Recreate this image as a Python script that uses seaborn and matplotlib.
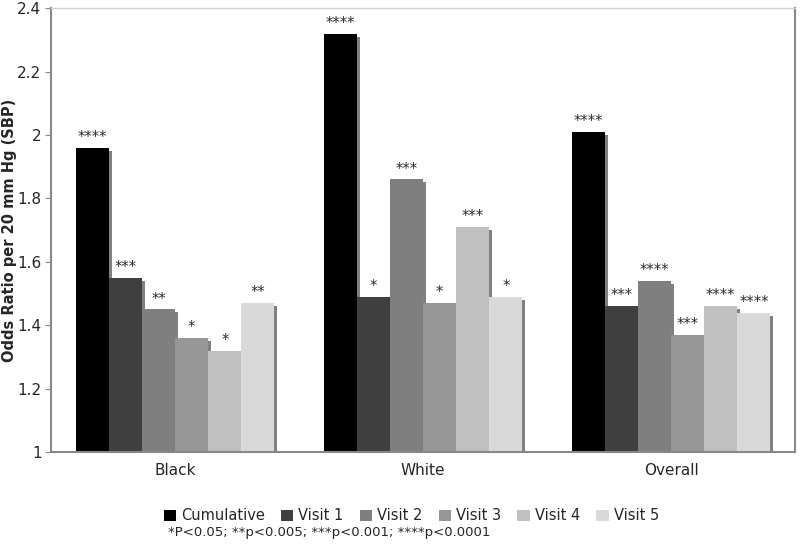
import numpy as np
import pandas as pd
import seaborn as sns
import matplotlib.pyplot as plt
import matplotlib.patheffects as pe
from matplotlib.patches import Patch

groups = ["Black", "White", "Overall"]
series = ["Cumulative", "Visit 1", "Visit 2", "Visit 3", "Visit 4", "Visit 5"]
colors = ["#000000", "#3f3f3f", "#7f7f7f", "#969696", "#c0c0c0", "#d9d9d9"]

# odds ratios, one list per series (Black, White, Overall)
cumulative = [1.96, 2.32, 2.01]
visit1 = [1.55, 1.49, 1.46]
visit2 = [1.45, 1.86, 1.54]
visit3 = [1.36, 1.47, 1.37]
visit4 = [1.32, 1.71, 1.46]
visit5 = [1.47, 1.49, 1.44]

stars_cumulative = ["****", "****", "****"]
stars_visit1 = ["***", "*", "***"]
stars_visit2 = ["**", "***", "****"]
stars_visit3 = ["*", "*", "***"]
stars_visit4 = ["*", "***", "****"]
stars_visit5 = ["**", "*", "****"]

all_vals = [cumulative, visit1, visit2, visit3, visit4, visit5]
all_stars = [stars_cumulative, stars_visit1, stars_visit2, stars_visit3, stars_visit4, stars_visit5]

rows = []
for s, vals in zip(series, all_vals):
    for g, v in zip(groups, vals):
        rows.append({"group": g, "series": s, "odds": v})
df = pd.DataFrame(rows)

sns.set_style("white")
plt.rcParams['font.family'] = ['DejaVu Sans']

fig = plt.figure(figsize=(8, 5.46), dpi=100)
ax = fig.add_axes([0.064, 0.172, 0.93, 0.813])

sns.barplot(data=df, x="group", y="odds", hue="series", order=groups,
            hue_order=series, palette=colors, width=0.8, saturation=1,
            edgecolor="none", linewidth=0, legend=False, ax=ax)

# excel-style drop shadow on the bars
shadow = [pe.SimplePatchShadow(offset=(2.2, -2.2), shadow_rgbFace="#808080", alpha=1.0), pe.Normal()]
for p in ax.patches:
    p.set_path_effects(shadow)

for cont, st in zip(ax.containers, all_stars):
    ax.bar_label(cont, labels=st, padding=2, fontsize=10.5, color="#2a2a2a")

ax.set_ylim(1, 2.4)
ax.set_xlim(-0.5, 2.5)
ax.set_yticks(np.arange(1, 2.41, 0.2))
ax.set_yticklabels(["1", "1.2", "1.4", "1.6", "1.8", "2", "2.2", "2.4"])
ax.set_xticks([0.5, 1.5], minor=True)
ax.tick_params(axis="x", which="major", length=0, labelsize=11, pad=8)
ax.tick_params(axis="x", which="minor", length=5, color="#888888", width=1)
ax.tick_params(axis="y", length=4, color="#888888", labelsize=11, left=True, pad=3)
ax.set_xlabel("")
ax.set_ylabel("Odds Ratio per 20 mm Hg (SBP)", fontsize=10.5, fontweight="bold")
ax.yaxis.set_label_coords(-0.046, 0.5)

for side in ["left", "bottom", "right"]:
    ax.spines[side].set_visible(True)
    ax.spines[side].set_color("#888888")
    ax.spines[side].set_linewidth(1.5)
ax.spines["top"].set_visible(True)
ax.spines["top"].set_color("#d0d0d0")
ax.spines["top"].set_linewidth(1)

handles = [Patch(facecolor=c, edgecolor="none") for c in colors]
fig.legend(handles, series, loc="center", bbox_to_anchor=(0.514, 0.055), ncol=6,
           frameon=False, fontsize=10.5, handlelength=0.85, handleheight=0.85,
           handletextpad=0.35, columnspacing=1.1)
fig.text(0.21, 0.024, "*P<0.05; **p<0.005; ***p<0.001; ****p<0.0001", fontsize=9.5, va="center")

fig.savefig("out.png", dpi=100)
